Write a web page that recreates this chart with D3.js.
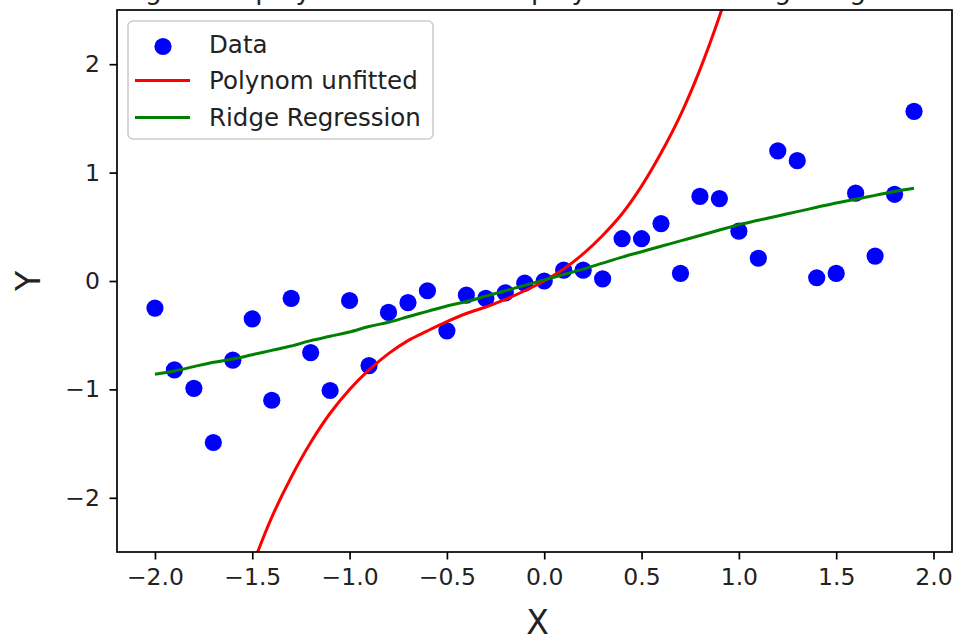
<!DOCTYPE html>
<html><head><meta charset="utf-8">
<script src="https://cdn.jsdelivr.net/npm/d3@7/dist/d3.min.js"></script>
<style>body{margin:0;background:#fff} svg{display:block;font-family:"DejaVu Sans",sans-serif}</style>
</head><body><svg id="c" width="958" height="642"></svg>
<script>
// ---- data ----
const xData = [-2.0,-1.9,-1.8,-1.7,-1.6,-1.5,-1.4,-1.3,-1.2,-1.1,-1.0,-0.9,-0.8,-0.7,-0.6,-0.5,-0.4,-0.3,-0.2,-0.1,
               0.0,0.1,0.2,0.3,0.4,0.5,0.6,0.7,0.8,0.9,1.0,1.1,1.2,1.3,1.4,1.5,1.6,1.7,1.8,1.9];
const yData = [-0.25,-0.82,-0.99,-1.49,-0.73,-0.35,-1.10,-0.16,-0.66,-1.01,-0.18,-0.78,-0.29,-0.20,-0.09,-0.46,-0.13,-0.16,-0.11,-0.02,
               0.00,0.10,0.10,0.02,0.39,0.39,0.53,0.07,0.78,0.76,0.46,0.21,1.20,1.11,0.03,0.07,0.81,0.23,0.80,1.565];
const polyX = [-2.0,-1.9,-1.8,-1.7,-1.6,-1.5,-1.4,-1.3,-1.2,-1.1,-1.0,-0.9,-0.8,-0.7,-0.6,-0.5,-0.4,-0.3,-0.2,-0.1,
               0.0,0.1,0.2,0.3,0.4,0.5,0.6,0.7,0.8,0.9,1.0,1.1];
const polyY = [-6.0,-5.15,-4.39,-3.72,-3.14,-2.63,-2.18,-1.81,-1.49,-1.22,-1.00,-0.82,-0.67,-0.55,-0.46,-0.375,-0.30,-0.24,-0.17,-0.09,
               0.00,0.11,0.25,0.42,0.62,0.875,1.18,1.53,1.95,2.44,3.00,3.64];
const ridgeX = xData;
const ridgeY = [-0.86,-0.83,-0.79,-0.75,-0.72,-0.68,-0.64,-0.60,-0.55,-0.51,-0.47,-0.42,-0.38,-0.33,-0.28,-0.23,-0.19,-0.14,-0.09,-0.04,
                0.01,0.06,0.11,0.165,0.22,0.27,0.32,0.37,0.42,0.47,0.52,0.56,0.60,0.64,0.68,0.72,0.755,0.79,0.825,0.855];
const xTicks = [-2.0,-1.5,-1.0,-0.5,0.0,0.5,1.0,1.5,2.0];
const yTicks = [-2,-1,0,1,2];
const legendLabels = ["Data","Polynom unfitted","Ridge Regression"];
const titleText = "Degree 10 polynomial: unfitted polynomial vs. Ridge Regression";
const xLabel = "X", yLabel = "Y";

// ---- layout ----
const m = {l:117, r:952, t:10, b:552};
const svg = d3.select("#c");
const x = d3.scaleLinear().domain([-2.195, 2.095]).range([m.l, m.r]);
const y = d3.scaleLinear().domain([-2.5, 2.5]).range([m.b, m.t]);

svg.append("defs").append("clipPath").attr("id","clip")
  .append("rect").attr("x",m.l).attr("y",m.t).attr("width",m.r-m.l).attr("height",m.b-m.t);

// title (cut off at the top edge, as in the reference)
svg.append("text").attr("x",(m.l+m.r)/2).attr("y",-1).attr("text-anchor","middle")
  .attr("font-size",26.5).attr("fill","#222").text(titleText);

const plot = svg.append("g").attr("clip-path","url(#clip)");

// scatter
plot.selectAll("circle.pt").data(xData.map((d,i)=>[d,yData[i]])).enter()
  .append("circle").attr("class","pt")
  .attr("cx",d=>x(d[0])).attr("cy",d=>y(d[1])).attr("r",8.6).attr("fill","#0000ff");

const line = d3.line().x(d=>x(d[0])).y(d=>y(d[1])).curve(d3.curveCatmullRom.alpha(0.5));
plot.append("path").datum(polyX.map((d,i)=>[d,polyY[i]]))
  .attr("d",line).attr("fill","none").attr("stroke","#ff0000").attr("stroke-width",3);
plot.append("path").datum(ridgeX.map((d,i)=>[d,ridgeY[i]]))
  .attr("d",line).attr("fill","none").attr("stroke","#008000").attr("stroke-width",3);

// axes
const fmtX = d3.format(".1f"), fmtY = d3.format("d");
const gx = svg.append("g").attr("transform",`translate(0,${m.b})`)
  .call(d3.axisBottom(x).tickValues(xTicks).tickFormat(fmtX).tickSize(7.5).tickPadding(9));
const gy = svg.append("g").attr("transform",`translate(${m.l},0)`)
  .call(d3.axisLeft(y).tickValues(yTicks).tickFormat(fmtY).tickSize(7.5).tickPadding(9.5));
[gx,gy].forEach(g=>{
  g.select(".domain").remove();
  g.selectAll(".tick line").attr("stroke","#000").attr("stroke-width",1.7);
  g.selectAll(".tick text").attr("fill","#222").attr("font-size",23.5).attr("font-family","DejaVu Sans");
});

// frame
svg.append("rect").attr("x",m.l).attr("y",m.t).attr("width",m.r-m.l).attr("height",m.b-m.t)
  .attr("fill","none").attr("stroke","#000").attr("stroke-width",1.7);

// axis labels
svg.append("text").attr("x",(m.l+m.r)/2 + 3).attr("y",634).attr("text-anchor","middle")
  .attr("font-size",33).attr("fill","#222").text(xLabel);
svg.append("text").attr("transform",`translate(40,${(m.t+m.b)/2}) rotate(-90)`).attr("text-anchor","middle")
  .attr("font-size",33).attr("fill","#222").text(yLabel);

// legend
const lg = svg.append("g");
lg.append("rect").attr("x",128).attr("y",21).attr("width",305).attr("height",118).attr("rx",5)
  .attr("fill","#fff").attr("fill-opacity",0.8).attr("stroke","#cccccc").attr("stroke-width",1.6);
const rows = [44, 80.5, 117.5];
lg.append("circle").attr("cx",163).attr("cy",rows[0]+2.5).attr("r",8.6).attr("fill","#0000ff");
lg.append("line").attr("x1",135).attr("x2",190).attr("y1",rows[1]).attr("y2",rows[1]).attr("stroke","#ff0000").attr("stroke-width",3);
lg.append("line").attr("x1",135).attr("x2",190).attr("y1",rows[2]).attr("y2",rows[2]).attr("stroke","#008000").attr("stroke-width",3);
legendLabels.forEach((t,i)=>{
  lg.append("text").attr("x",209).attr("y",rows[i]).attr("dy","0.36em").attr("font-size",24.5).attr("fill","#222").text(t);
});
</script></body></html>
